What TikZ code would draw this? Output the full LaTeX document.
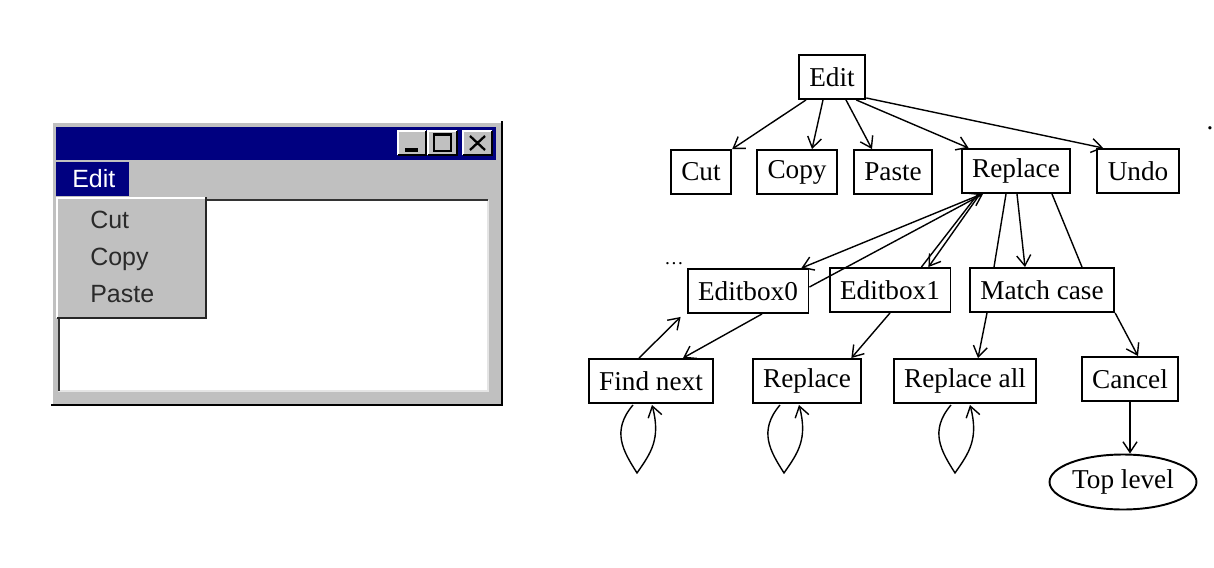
\documentclass[tikz,border=0pt]{standalone}
\usepackage{fontspec}
\setmainfont{Liberation Serif}
\newfontfamily\winfont{Liberation Sans}
\usepackage{tikz}
\usetikzlibrary{arrows.meta, positioning, calc, shapes.geometric}
\definecolor{Navy}   {HTML}{000080}
\definecolor{WinGray}{HTML}{C0C0C0}
\definecolor{WinText}{HTML}{2A2A2A}
\tikzset{
  box/.style={draw, line width=1.1pt, inner xsep=6pt, minimum height=0.88cm,
              font=\fontsize{15.5}{18}\selectfont},
  arr/.style={-{Straight Barb[length=6pt,width=8pt]}, line width=0.8pt},
  ln/.style={line width=0.8pt},
  menu/.style={font=\winfont\fontsize{14.2}{17}\selectfont, inner sep=0pt,
               anchor=base west, text=WinText}
}

\begin{document}
\begin{tikzpicture}[x=0.02cm, y=-0.02cm]
  \useasboundingbox (0,0) rectangle (1214,568);

  % the window
  \fill[WinGray] (51,121) rectangle (502,405);
  \draw[white, line width=1pt] (52,404) |- (501,122);
  \draw[black, line width=1.6pt] (51,405) -| (502,121);
  \fill[Navy] (56,127) rectangle (496,160);
  \foreach \l/\r in {398/426, 428/457, 463/492}{
    \fill[WinGray] (\l,131) rectangle (\r,155);
    \draw[white, line width=0.8pt] (\l,155) |- (\r,131);
    \draw[black, line width=0.9pt] (\l,155) -| (\r,131);
  }
  \fill[black] (405,148) rectangle (418,152);
  \draw[black, line width=0.8pt] (434,134) rectangle (451,151);
  \draw[black, line width=1.6pt] (434,135) -- (451,135);
  \draw[black, line width=1.3pt] (470,136) -- (485,150) (485,136) -- (470,150);
  \fill[Navy] (56,162) rectangle (129,196);
  \node[menu, text=white] (medit) at (72,187) {Edit};
  \fill[white] (58,200) rectangle (488,391);
  \draw[black!10, line width=1.2pt] (58,391) -| (488,200);
  \draw[black!80, line width=1.2pt] (59,391) |- (488,200);
  \fill[WinGray] (57,197) rectangle (206,318);
  \draw[white, line width=1pt] (57,318) |- (206,198);
  \draw[black!85, line width=1.5pt] (57,318) -| (206,197);
  \node[menu] (mcut)   at (90,228) {Cut};
  \node[menu] (mcopy)  at (90,265) {Copy};
  \node[menu] (mpaste) at (90,302) {Paste};

  % the graph
  \node[box] (edit)    at (832,77)  {Edit};
  \node[box] (cut)     at (701,172) {Cut};
  \node[box] (copy)    at (797,172) {Copy};
  \node[box] (paste)   at (893,172) {Paste};
  \node[box] (replace) at (1016,171) {Replace};
  \node[box] (undo)    at (1138,171) {Undo};
  \node[box] (ebox0)   at (748,291) {Editbox0};
  \node[box] (ebox1)   at (890,290) {Editbox1};
  \node[box] (match)   at (1042,290) {Match case};
  \node[box] (find)    at (651,381) {Find next};
  \node[box] (rep2)    at (807,381) {Replace};
  \node[box] (repall)  at (965,381) {Replace all};
  \node[box] (cancel)  at (1130,379) {Cancel};
  \node[box, ellipse, inner xsep=0pt, inner ysep=0pt, minimum width=2.94cm,
        minimum height=1.1cm] (top) at (1123,482) {Top level};
  \node[anchor=base, inner sep=0pt, font=\fontsize{11}{13}\selectfont] (more) at (674,264) {\dots};
  \node[anchor=base, inner sep=0pt, font=\fontsize{15.5}{18}\selectfont] (stop) at (1210,129) {.};

  \draw[arr] ($(edit.south)+(-26,0)$) -- (cut.north east);
  \draw[arr] ($(edit.south)+(-9,0)$)  -- ($(copy.north)+(15,0)$);
  \draw[arr] ($(edit.south)+(14,0)$)  -- ($(paste.north)+(-21,0)$);
  \draw[arr] ($(edit.south east)+(-10,0)$) -- ($(replace.north west)+(8,0)$);
  \draw[arr] ($(edit.south east)+(0,-2)$)  -- ($(undo.north west)+(7,0)$);

  \draw[arr] ($(replace.south)+(-34,0)$) -- ($(ebox0.north east)+(-8,0)$);
  \draw[arr] ($(ebox0.east)+(0,-4)$) -- ($(replace.south)+(-33,0)$);
  \draw[arr] ($(replace.south)+(-36,0)$) -- ($(ebox1.north east)+(-23,0)$);
  \draw[ln]  ($(ebox1.north east)+(-30,0)$) -- ($(replace.south)+(-38,0)$);
  \draw[ln]  ($(replace.south)+(-10,0)$) -- ($(match.north)+(-48,0)$);
  \draw[arr] ($(replace.south)+(1,0)$)   -- ($(match.north)+(-17,0)$);
  \draw[ln]  ($(replace.south)+(36,0)$)  -- ($(match.north)+(40,0)$);

  \draw[arr] ($(ebox0.south)+(14,0)$) -- ($(find.north)+(32,0)$);
  \draw[arr] ($(find.north)+(-12,0)$) -- ($(ebox0.south west)+(-6,3)$);
  \draw[arr] (ebox1.south) -- ($(rep2.north east)+(-11,0)$);
  \draw[arr] ($(match.south)+(-55,0)$) -- ($(repall.north)+(13,0)$);
  \draw[arr] (match.south east) -- ($(cancel.north)+(8,0)$);
  \draw[arr] (cancel) -- (cancel |- top.north);

  % self loops
  \foreach \n/\o in {find/-18, rep2/-27, repall/-14}{
    \draw[arr] ($(\n.south)+(\o,1)$) .. controls +(-22,26) and +(-14,-22) ..
      ($(\n.south)+(\o+4,69)$) .. controls +(14,-20) and +(9,34) ..
      ($(\n.south)+(\o+19,1)$);
  }
\end{tikzpicture}
\end{document}
